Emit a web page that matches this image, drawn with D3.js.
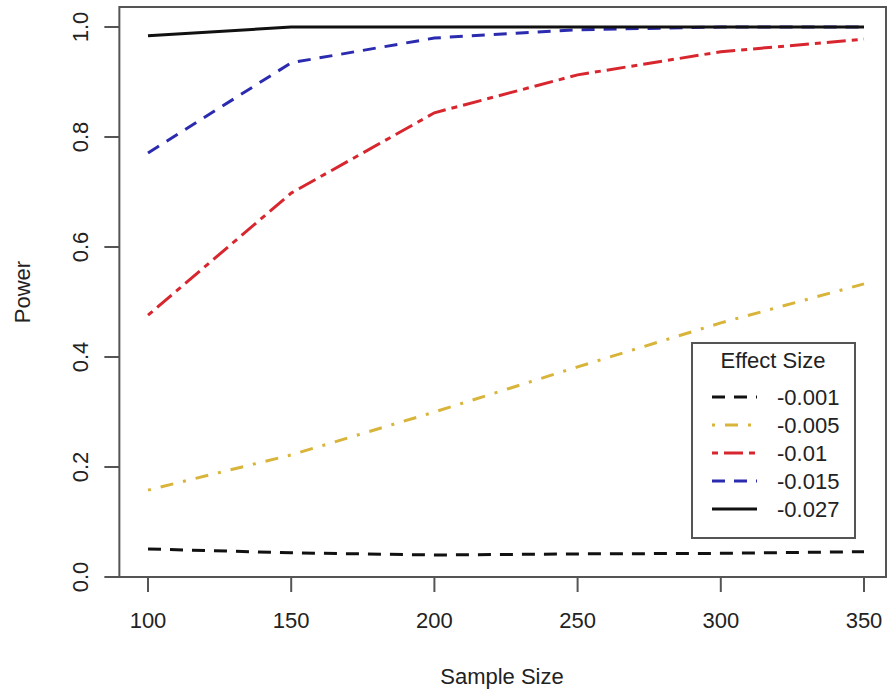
<!DOCTYPE html>
<html lang="en">
<head>
  <meta charset="utf-8">
  <title>Power vs Sample Size</title>
  <script src="https://d3js.org/d3.v7.min.js"></script>
  <style>
    body { margin: 0; background: #fff; }
    text { font-family: "Liberation Sans", Arial, sans-serif; fill: #222; }
  </style>
</head>
<body>
  <script>
    // data
    const sampleSizes = [100, 150, 200, 250, 300, 350]
    const effectSizes = ["-0.001", "-0.005", "-0.01", "-0.015", "-0.027"]
    const power001 = [0.051, 0.044, 0.040, 0.042, 0.043, 0.046]
    const power005 = [0.158, 0.222, 0.300, 0.382, 0.462, 0.533]
    const power01 = [0.476, 0.698, 0.844, 0.913, 0.955, 0.978]
    const power015 = [0.771, 0.935, 0.980, 0.995, 1.0, 1.0]
    const power027 = [0.984, 1.0, 1.0, 1.0, 1.0, 1.0]
    const xTicks = [100, 150, 200, 250, 300, 350]
    const yTicks = [0, 0.2, 0.4, 0.6, 0.8, 1.0]

    const series = [
      { name: effectSizes[0], values: power001, color: "#111", dash: "13,9" },
      { name: effectSizes[1], values: power005, color: "#d9b43a", dash: "3,10,13,10" },
      { name: effectSizes[2], values: power01, color: "#d8262e", dash: "6,6,19,6" },
      { name: effectSizes[3], values: power015, color: "#2b2bb0", dash: "13,9" },
      { name: effectSizes[4], values: power027, color: "#111", dash: null }
    ]

    const width = 888, height = 694
    const x = d3.scaleLinear().domain([100, 350]).range([148, 864])
    const y = d3.scaleLinear().domain([0, 1]).range([577, 27])
    const box = { left: x(90), right: 886, top: 7, bottom: y(0) }

    const svg = d3.select("body").append("svg")
      .attr("width", width)
      .attr("height", height)

    // lines
    const line = d3.line()
      .x((d, i) => x(sampleSizes[i]))
      .y(d => y(d))

    svg.append("g")
      .selectAll("path")
      .data(series)
      .join("path")
      .attr("fill", "none")
      .attr("stroke", d => d.color)
      .attr("stroke-width", 3)
      .attr("stroke-dasharray", d => d.dash)
      .attr("d", d => line(d.values))

    // plot box
    svg.append("rect")
      .attr("x", box.left)
      .attr("y", box.top)
      .attr("width", box.right - box.left)
      .attr("height", box.bottom - box.top)
      .attr("fill", "none")
      .attr("stroke", "#555")
      .attr("stroke-width", 2)

    // x axis ticks
    const xg = svg.append("g")
    xg.selectAll("line")
      .data(xTicks)
      .join("line")
      .attr("x1", d => x(d)).attr("x2", d => x(d))
      .attr("y1", box.bottom).attr("y2", box.bottom + 15)
      .attr("stroke", "#555").attr("stroke-width", 2)
    xg.selectAll("text")
      .data(xTicks)
      .join("text")
      .attr("x", d => x(d))
      .attr("y", 620)
      .attr("dy", "0.35em")
      .attr("text-anchor", "middle")
      .attr("font-size", 22)
      .text(d => d)

    // y axis ticks
    const yg = svg.append("g")
    yg.selectAll("line")
      .data(yTicks)
      .join("line")
      .attr("x1", box.left - 15).attr("x2", box.left)
      .attr("y1", d => y(d)).attr("y2", d => y(d))
      .attr("stroke", "#555").attr("stroke-width", 2)
    yg.selectAll("text")
      .data(yTicks)
      .join("text")
      .attr("transform", d => `translate(80,${y(d)}) rotate(-90)`)
      .attr("dy", "0.35em")
      .attr("text-anchor", "middle")
      .attr("font-size", 22)
      .text(d => d3.format(".1f")(d))

    // axis titles
    svg.append("text")
      .attr("x", 502).attr("y", 676)
      .attr("dy", "0.35em")
      .attr("text-anchor", "middle")
      .attr("font-size", 22)
      .text("Sample Size")
    svg.append("text")
      .attr("transform", `translate(22,${(box.top + box.bottom) / 2}) rotate(-90)`)
      .attr("dy", "0.35em")
      .attr("text-anchor", "middle")
      .attr("font-size", 22)
      .text("Power")

    // legend
    const lg = svg.append("g")
    lg.append("rect")
      .attr("x", 692).attr("y", 343)
      .attr("width", 163).attr("height", 195)
      .attr("fill", "#fff")
      .attr("stroke", "#555")
      .attr("stroke-width", 2)
    lg.append("text")
      .attr("x", 773).attr("y", 368)
      .attr("text-anchor", "middle")
      .attr("font-size", 22)
      .text("Effect Size")
    const rows = lg.selectAll("g.row")
      .data(series)
      .join("g")
      .attr("class", "row")
      .attr("transform", (d, i) => `translate(0,${397 + i * 28})`)
    rows.append("line")
      .attr("x1", 712).attr("x2", 757)
      .attr("stroke", d => d.color)
      .attr("stroke-width", 3)
      .attr("stroke-dasharray", d => d.dash)
    rows.append("text")
      .attr("x", 777)
      .attr("dy", "0.35em")
      .attr("font-size", 22)
      .text(d => d.name)
  </script>
</body>
</html>
